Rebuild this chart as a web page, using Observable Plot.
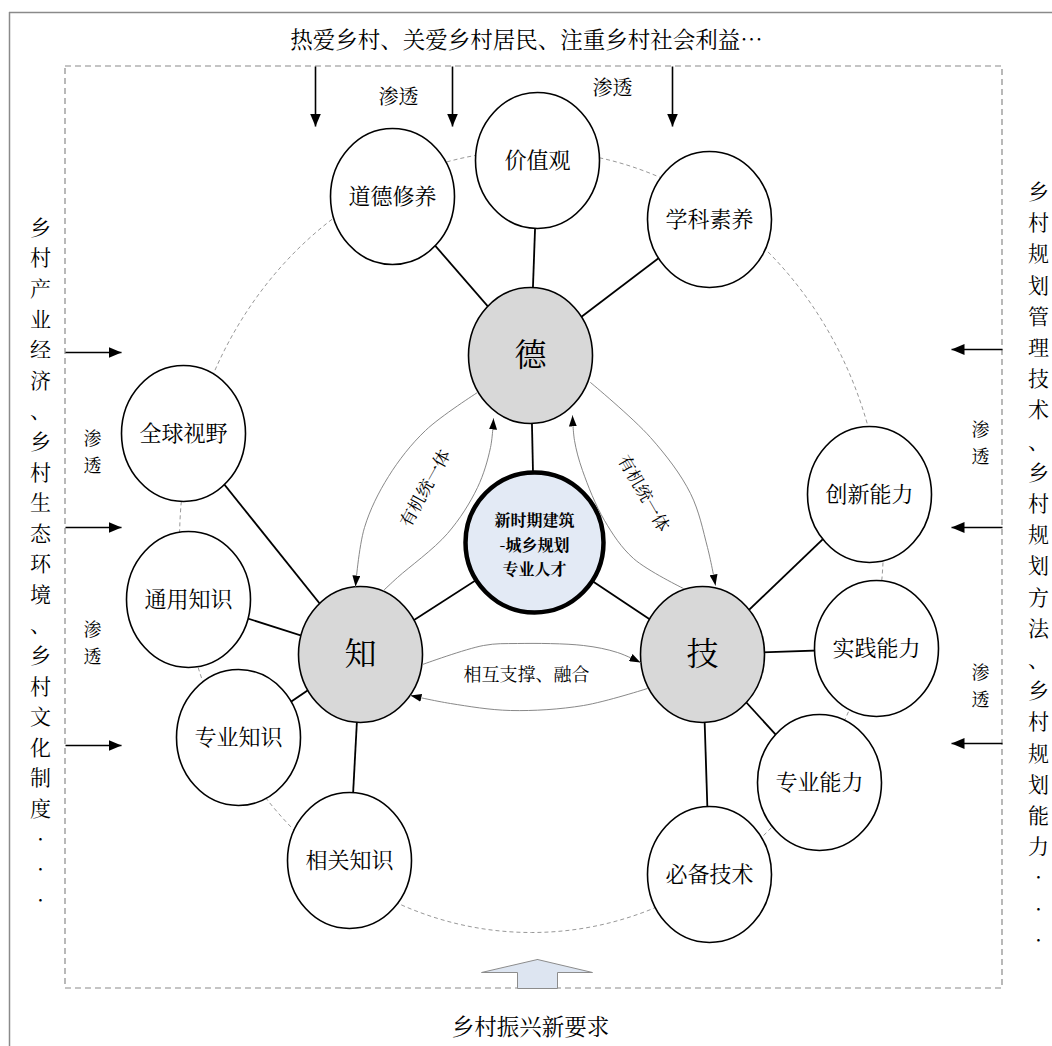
<!DOCTYPE html>
<html><head><meta charset="utf-8">
<script src="https://cdn.jsdelivr.net/npm/d3@7"></script>
<script src="https://cdn.jsdelivr.net/npm/@observablehq/plot@0.6"></script>
<style>body{margin:0;background:#fff}</style>
</head><body><div id="chart"></div>
<script>
// ---------- data ----------
const coreNode = [{name: "新时期建筑\n-城乡规划\n专业人才", x: 534, y: 542}];
const pillars = [
  {name: "德", x: 530, y: 355},
  {name: "知", x: 360, y: 654},
  {name: "技", x: 702, y: 654}
];
const leaves = [
  {name: "价值观", x: 537, y: 160, parent: "德"},
  {name: "道德修养", x: 392, y: 196, parent: "德"},
  {name: "学科素养", x: 709, y: 219, parent: "德"},
  {name: "全球视野", x: 183, y: 433, parent: "知"},
  {name: "通用知识", x: 188, y: 599, parent: "知"},
  {name: "专业知识", x: 238, y: 737, parent: "知"},
  {name: "相关知识", x: 349, y: 860, parent: "知"},
  {name: "创新能力", x: 869, y: 494, parent: "技"},
  {name: "实践能力", x: 876, y: 648, parent: "技"},
  {name: "专业能力", x: 819, y: 782, parent: "技"},
  {name: "必备技术", x: 709, y: 874, parent: "技"}
];
const ring = [{x: 531, y: 541}];
const topNote = "热爱乡村、关爱乡村居民、注重乡村社会利益…";
const bottomNote = "乡村振兴新要求";
const leftNote = "乡村产业经济、乡村生态环境、乡村文化制度···";
const rightNote = "乡村规划管理技术、乡村规划方法、乡村规划能力···";
const seepChars = ["渗", "透"];
const topArrowX = [315, 452, 672];
const leftArrowY = [352, 527, 745];
const rightArrowY = [349, 527, 743];
const topSeep = [{x: 398, y: 97}, {x: 612, y: 88}];
const sideSeep = [{x: 92, y: 452}, {x: 92, y: 643}, {x: 980, y: 443}, {x: 980, y: 686}];
const unityLabel = "有机统一体";
const unityLabels = [{x: 425, y: 488, rotate: -61}, {x: 643, y: 493, rotate: 60}];
const supportLabel = [{text: "相互支撑、融合", x: 526, y: 675}];
// curved flows between 德 / 知 / 技
const curves = [
  {id: "德→知", pts: [[477,392],[425,430],[388,476],[364,527],[355,586]]},
  {id: "知→德", pts: [[383,590],[397,577],[447,533],[477,487],[490,447],[493,418]]},
  {id: "德→技", pts: [[590,382],[650,437],[690,493],[707,547],[715,585]]},
  {id: "技→德", pts: [[683,588],[633,558],[604,520],[582,470],[574,440],[572,415]]},
  {id: "知→技", pts: [[422,664],[483,645],[517,643],[583,645],[617,652],[640,662]]},
  {id: "技→知", pts: [[647,688],[583,705],[510,710],[450,703],[410,695]]}
];
const blockArrow = [[537,959],[592,972],[557,972],[557,988],[517,988],[517,972],[481,972],[537,959]];
const frame = [{x1: 65, x2: 1002, y1: 66, y2: 988}];

// ---------- helpers ----------
const FONT = '"Noto Serif CJK SC","Noto Sans CJK SC",serif';
const ns = "http://www.w3.org/2000/svg";
function ellipseSymbol(ratio) {
  return {draw(ctx, size) {
    const ry = Math.sqrt(size / Math.PI), rx = ry * ratio, k = 0.5522847498;
    ctx.moveTo(rx, 0);
    ctx.bezierCurveTo(rx, ry * k, rx * k, ry, 0, ry);
    ctx.bezierCurveTo(-rx * k, ry, -rx, ry * k, -rx, 0);
    ctx.bezierCurveTo(-rx, -ry * k, -rx * k, -ry, 0, -ry);
    ctx.bezierCurveTo(rx * k, -ry, rx, -ry * k, rx, 0);
    ctx.closePath();
  }};
}
function filledArrow(len, wid) {
  return (color, context) => {
    const doc = (context && context.document) || document;
    const m = doc.createElementNS(ns, "marker");
    m.setAttribute("viewBox", `0 ${-wid / 2} ${len} ${wid}`);
    m.setAttribute("markerWidth", len);
    m.setAttribute("markerHeight", wid);
    m.setAttribute("markerUnits", "userSpaceOnUse");
    m.setAttribute("refX", len);
    m.setAttribute("refY", 0);
    m.setAttribute("orient", "auto");
    const p = doc.createElementNS(ns, "path");
    p.setAttribute("d", `M0,${-wid / 2}L${len},0L0,${wid / 2}Z`);
    p.setAttribute("fill", "#000");
    p.setAttribute("stroke", "none");
    m.appendChild(p);
    return m;
  };
}
const vertical = (s) => [...s].join("\n");

const allNodes = [...coreNode, ...pillars, ...leaves];
const byName = new Map(allNodes.map((d) => [d.name, d]));
const edges = [
  ...leaves.map((d) => ({a: byName.get(d.parent), b: d})),
  ...pillars.map((d) => ({a: coreNode[0], b: d}))
];
const curvePts = curves.flatMap((c) => c.pts.map(([x, y]) => ({id: c.id, x, y})));
const blockPts = blockArrow.map(([x, y]) => ({x, y}));
// side "渗透" labels: one glyph per row, stacked around the label centre
const SEEP_STEP = 26.5;
const sideSeepChars = sideSeep.flatMap((d) =>
  seepChars.map((c, i) => ({x: d.x, y: d.y + (i - (seepChars.length - 1) / 2) * SEEP_STEP, c}))
);

const bigHead = filledArrow(13, 11);
const smallHead = filledArrow(11, 8);

const chart = Plot.plot({
  width: 1052,
  height: 1046,
  margin: 0,
  x: {domain: [0, 1052], range: [0, 1052], axis: null},
  y: {domain: [0, 1046], range: [0, 1046], axis: null},
  style: {fontFamily: FONT, background: "#fff", color: "#000"},
  marks: [
    // outer frame
    Plot.ruleY([12], {x1: 9, x2: 1052, stroke: "#8a8a8a", strokeWidth: 1.5}),
    Plot.ruleX([9], {y1: 12, y2: 1046, stroke: "#8a8a8a", strokeWidth: 1.5}),
    // dashed inner frame
    Plot.rect(frame, {x1: "x1", x2: "x2", y1: "y1", y2: "y2", fill: "none", stroke: "#8a8a8a", strokeWidth: 1.2, strokeDasharray: "6,4"}),
    // dashed ring
    Plot.dot(ring, {x: "x", y: "y", r: 391, symbol: ellipseSymbol(352 / 391), fill: "none", stroke: "#8c8c8c", strokeWidth: 0.9, strokeDasharray: "4,3"}),
    // straight connectors
    Plot.link(edges, {x1: (d) => d.a.x, y1: (d) => d.a.y, x2: (d) => d.b.x, y2: (d) => d.b.y, stroke: "#000", strokeWidth: 1.8}),
    // nodes
    Plot.dot(leaves, {x: "x", y: "y", r: 68, symbol: ellipseSymbol(62 / 68), fill: "#fff", stroke: "#000", strokeWidth: 1.6}),
    Plot.dot(pillars, {x: "x", y: "y", r: 68, symbol: ellipseSymbol(62 / 68), fill: "#d8d8d8", stroke: "#000", strokeWidth: 1.6}),
    Plot.dot(coreNode, {x: "x", y: "y", r: 70, symbol: ellipseSymbol(69 / 70), fill: "#e3eaf5", stroke: "#000", strokeWidth: 4.5}),
    // curved flows
    Plot.line(curvePts, {x: "x", y: "y", z: "id", curve: "catmull-rom", stroke: "#7a7a7a", strokeWidth: 0.9, markerEnd: smallHead}),
    // straight inflow arrows
    Plot.link(topArrowX, {x1: (d) => d, x2: (d) => d, y1: 66, y2: 126, stroke: "#000", strokeWidth: 1.6, markerEnd: bigHead}),
    Plot.link(leftArrowY, {x1: 65, x2: 121, y1: (d) => d, y2: (d) => d, stroke: "#000", strokeWidth: 1.6, markerEnd: bigHead}),
    Plot.link(rightArrowY, {x1: 1002, x2: 951, y1: (d) => d, y2: (d) => d, stroke: "#000", strokeWidth: 1.6, markerEnd: bigHead}),
    // bottom block arrow
    Plot.line(blockPts, {x: "x", y: "y", fill: "#dde5f1", stroke: "#8c8c8c", strokeWidth: 1, curve: "linear"}),
    // texts
    Plot.text([topNote], {x: 526, y: 40, text: (d) => d, fontSize: 22.5}),
    Plot.text([bottomNote], {x: 530, y: 1027, text: (d) => d, fontSize: 22.5}),
    Plot.text([leftNote], {x: 40, y: 561, text: (d) => vertical(d), fontSize: 21, lineHeight: 30.6 / 21}),
    Plot.text([rightNote], {x: 1038, y: 563, text: (d) => vertical(d), fontSize: 21, lineHeight: 31.2 / 21}),
    Plot.text(topSeep, {x: "x", y: "y", text: () => seepChars.join(""), fontSize: 20}),
    Plot.text(sideSeepChars, {x: "x", y: "y", text: "c", fontSize: 18}),
    Plot.text(leaves, {x: "x", y: "y", text: "name", fontSize: 22}),
    Plot.text(pillars, {x: "x", y: "y", text: "name", fontSize: 32}),
    Plot.text(coreNode, {x: "x", y: "y", text: "name", fontSize: 16, fontWeight: "bold", lineHeight: 1.56}),
    Plot.text(unityLabels, {x: "x", y: "y", rotate: "rotate", text: () => unityLabel, fontSize: 17}),
    Plot.text(supportLabel, {x: "x", y: "y", text: "text", fontSize: 18})
  ]
});
document.getElementById("chart").appendChild(chart);
</script>
</body></html>
